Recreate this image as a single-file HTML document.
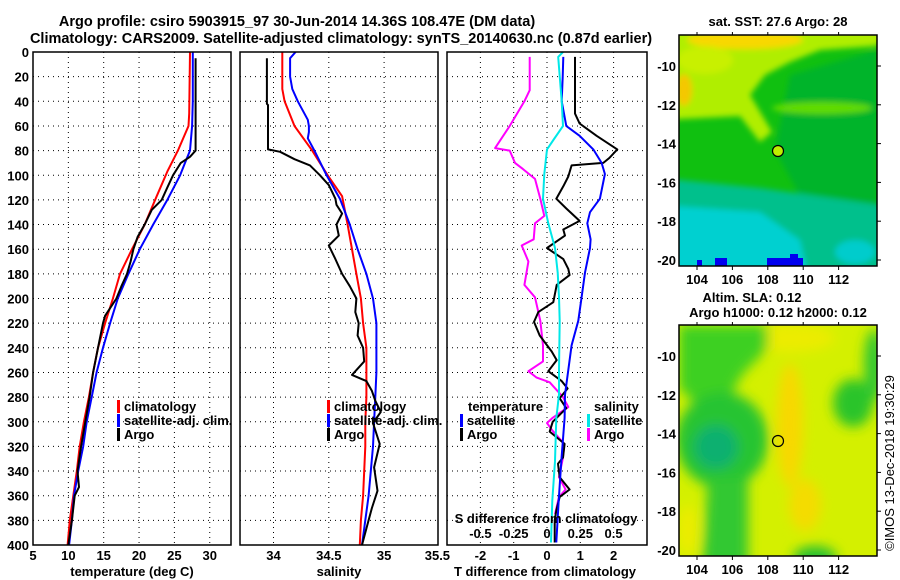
<!DOCTYPE html>
<html><head><meta charset="utf-8"><style>
html,body{margin:0;padding:0;background:#fff;}
svg{display:block;font-family:"Liberation Sans",Arial,sans-serif;font-weight:bold;}
</style></head><body>
<svg id="fig" width="900" height="580" viewBox="0 0 900 580">
<defs>
<filter id="blur4" x="-10%" y="-10%" width="120%" height="120%"><feGaussianBlur stdDeviation="3"/></filter>
<filter id="blur6" x="-10%" y="-10%" width="120%" height="120%"><feGaussianBlur stdDeviation="6"/></filter>
<clipPath id="clipm1"><rect x="679" y="35" width="198" height="231"/></clipPath>
<clipPath id="clipm2"><rect x="679" y="325" width="198" height="231"/></clipPath>
</defs>
<rect width="900" height="580" fill="#fff"/>
<text x="297" y="26" font-size="14.5" text-anchor="middle">Argo profile: csiro 5903915_97 30-Jun-2014 14.36S 108.47E (DM data)</text>
<text x="341" y="43" font-size="14.5" text-anchor="middle">Climatology: CARS2009. Satellite-adjusted climatology: synTS_20140630.nc (0.87d earlier)</text>

<g id="grid"></g>
<g id="series"></g>
<g id="axes"></g>

<!-- SST map -->
<g>
<text x="778" y="26" font-size="13" text-anchor="middle">sat. SST: 27.6 Argo: 28</text>
<g clip-path="url(#clipm1)">
<rect x="679" y="35" width="198" height="231" fill="#10c010"/>
<g filter="url(#blur4)">
<polygon points="790,75 877,50 877,205 805,205 775,150" fill="#02b42a"/>
<polygon points="660,20 900,20 877,46 820,50 790,62 765,75 750,95 772,132 760,142 740,116 660,120" fill="#b0ee00"/>
<ellipse cx="745" cy="40" rx="58" ry="9" fill="#f8d800"/>
<ellipse cx="684" cy="90" rx="8" ry="16" fill="#f4c800"/>
<ellipse cx="705" cy="60" rx="28" ry="14" fill="#c8f000"/>
<ellipse cx="822" cy="108" rx="50" ry="6" fill="#60dc00"/>
<polygon points="660,178 760,188 900,208 900,290 660,290" fill="#00c08c"/>
<polygon points="660,205 760,212 800,240 812,290 660,290" fill="#00d0d0"/>
<ellipse cx="855" cy="252" rx="20" ry="12" fill="#00cccc"/>
</g>
<rect x="697" y="260" width="5" height="6" fill="#0000f0"/>
<rect x="715" y="258" width="12" height="8" fill="#0000f0"/>
<rect x="767" y="258" width="36" height="8" fill="#0000f0"/>
<rect x="790" y="254" width="8" height="6" fill="#0000f0"/>
</g>
<rect x="679" y="35" width="198" height="231" fill="none" stroke="#000" stroke-width="1.5"/>
<circle cx="778" cy="151" r="5.5" fill="#bfee00" stroke="#000" stroke-width="1.2"/>
<g id="m1ticks"></g>
</g>

<!-- SLA map -->
<g>
<text x="752" y="302" font-size="13" text-anchor="middle">Altim. SLA: 0.12</text>
<text x="778" y="317" font-size="13" text-anchor="middle">Argo h1000: 0.12 h2000: 0.12</text>
<g clip-path="url(#clipm2)">
<rect x="679" y="325" width="198" height="231" fill="#d4f000"/>
<g filter="url(#blur6)">
<ellipse cx="790" cy="338" rx="45" ry="14" fill="#ecec00"/>
<ellipse cx="790" cy="425" rx="13" ry="62" fill="#f8d800"/>
<ellipse cx="805" cy="505" rx="16" ry="26" fill="#f4dc00"/>
<polygon points="679,325 768,325 768,348 742,375 724,408 700,408 679,388" fill="#3cd020"/>
<ellipse cx="722" cy="440" rx="46" ry="48" fill="#28c430"/>
<ellipse cx="716" cy="447" rx="22" ry="22" fill="#10b070"/>
<polygon points="708,478 748,478 748,570 702,570" fill="#30c830"/>
<ellipse cx="853" cy="403" rx="20" ry="24" fill="#2cc42c"/>
<ellipse cx="874" cy="365" rx="10" ry="36" fill="#30c830"/>
<ellipse cx="815" cy="558" rx="22" ry="12" fill="#28c030"/>
<ellipse cx="688" cy="530" rx="10" ry="25" fill="#ecec00"/>
</g>
</g>
<rect x="679" y="325" width="198" height="231" fill="none" stroke="#000" stroke-width="1.5"/>
<circle cx="778" cy="441" r="5.5" fill="none" stroke="#000" stroke-width="1.2"/>
<g id="m2ticks"></g>
</g>
<text transform="translate(894,463) rotate(-90)" font-size="13" font-weight="normal" text-anchor="middle">©IMOS 13-Dec-2018 19:30:29</text>
</svg>
<script>
// ---- Temperature panel data ----
const tClimDepth = [0,50,60,80,97,117,140,160,180,200,220,240,260,280,300,320,340,360,380,400];
const tClimVal   = [27.2,27.1,27.0,25.5,24.0,22.5,20.8,19.0,17.3,16.3,15.2,14.2,13.5,12.9,12.2,11.6,11.2,10.7,10.2,9.9];
const tSatDepth  = [0,40,60,80,90,100,120,140,160,180,200,220,240,260,280,300,320,340,360,380,400];
const tSatVal    = [27.6,27.6,27.5,27.2,26.5,25.8,24.0,22.0,20.1,18.5,17.0,15.9,14.9,14.0,13.3,12.6,12.1,11.4,10.8,10.5,10.1];
const tArgoDepth = [5,80,85,90,100,110,120,128,140,150,160,170,180,190,200,214,220,240,260,280,300,320,340,353,360,380,400];
const tArgoVal   = [28.0,28.0,27.2,25.9,24.8,24.0,23.2,21.8,20.8,19.8,19.2,18.8,18.3,17.5,16.8,15.2,14.9,14.2,13.5,13.0,12.4,11.8,11.3,11.5,10.9,10.5,10.0];
// ---- Salinity panel data ----
const sClimDepth = [0,30,40,60,80,100,117,140,160,180,200,220,240,260,280,300,320,340,360,380,400];
const sClimVal   = [34.08,34.08,34.10,34.19,34.35,34.49,34.62,34.67,34.71,34.75,34.79,34.81,34.84,34.84,34.84,34.83,34.83,34.82,34.81,34.79,34.78];
const sSatDepth  = [0,5,20,30,40,55,60,65,70,80,100,119,140,160,180,200,220,240,260,280,300,320,340,360,380,400];
const sSatVal    = [34.20,34.15,34.15,34.17,34.22,34.31,34.32,34.32,34.31,34.37,34.48,34.60,34.69,34.76,34.84,34.90,34.93,34.93,34.93,34.92,34.91,34.90,34.88,34.86,34.83,34.80];
const sArgoDepth = [5,42,43,79,81,87,92,100,108,119,124,131,140,149,157,168,180,190,200,211,220,230,240,251,262,267,275,283,292,301,318,337,356,370,380,400];
const sArgoVal   = [33.94,33.94,33.95,33.95,34.06,34.19,34.33,34.42,34.50,34.56,34.57,34.62,34.57,34.59,34.50,34.56,34.62,34.69,34.75,34.74,34.77,34.76,34.81,34.82,34.71,34.84,34.89,34.92,34.97,34.90,34.96,34.91,34.94,34.89,34.86,34.80];
// ---- Difference panel data ----
const dTSatDepth = [4,20,40,60,68,79,90,99,119,130,139,152,159,179,199,218,238,258,278,297,332,364,398];
const dTSatVal   = [0.49,0.47,0.44,0.58,0.98,1.39,1.64,1.74,1.59,1.29,1.21,1.31,1.29,1.14,1.04,0.94,0.74,0.64,0.54,0.53,0.43,0.35,0.28];
const dSSatDepth = [0,4,40,60,71,79,99,119,139,159,179,199,218,258,278,297,332,364,398];
const dSSatVal   = [0.12,0.084,0.11,0.12,0.05,0.0,-0.02,-0.03,0.01,0.06,0.08,0.09,0.095,0.09,0.09,0.07,0.06,0.04,0.03];
const dTArgoDepth = [4,50,58,68,79,86,90,92,101,109,119,127,137,144,149,159,168,176,181,189,203,211,219,230,243,250,259,267,273,281,289,300,308,318,329,334,345,355,361,372,380,398];
const dTArgoVal   = [0.84,0.84,0.98,1.49,2.11,1.87,1.69,0.74,0.64,0.49,0.28,0.58,0.98,0.49,0.54,0.0,0.49,0.64,0.68,0.29,0.19,-0.26,-0.39,-0.22,0.14,0.29,0.04,0.44,0.62,0.38,0.58,0.17,0.08,0.53,0.48,0.33,0.38,0.68,0.38,0.28,0.23,0.23];
const dSArgoDepth = [4,31,40,60,78,80,90,95,103,119,133,139,152,157,170,189,199,218,238,251,259,264,268,280,288,297,301,307,318,329,345,355,361,375];
const dSArgoVal   = [-0.13,-0.13,-0.17,-0.28,-0.39,-0.28,-0.24,-0.18,-0.09,-0.05,-0.02,-0.09,-0.10,-0.19,-0.14,-0.17,-0.09,-0.05,-0.03,-0.03,-0.14,-0.08,0.02,0.12,0.16,0.04,0.0,0.04,0.13,0.12,0.09,0.14,0.09,0.06];
// ---- Tick labels ----
const depthTicks = [0,20,40,60,80,100,120,140,160,180,200,220,240,260,280,300,320,340,360,380,400];
const tTicks = [5,10,15,20,25,30];
const sTicks = [34,34.5,35,35.5];
const dTTicks = [-2,-1,0,1,2];
const dSTicks = [-0.5,-0.25,0,0.25,0.5];
const lonTicks = [104,106,108,110,112];
const latTicks = [-10,-12,-14,-16,-18,-20];

const NS='http://www.w3.org/2000/svg';
const TOP=52, BOT=545;
function yD(d){return TOP+(d/400)*(BOT-TOP);}
const P1={x0:33,x1:231}, P2={x0:240,x1:438}, P3={x0:447,x1:647};
function xT(t){return 33+(t-5)*7.07;}
function xS(s){return 273.5+(s-34)*110.6;}
function xDT(v){return 547+v*33.3;}
function xDS(v){return 547+v*133.2;}
function mk(tag,attrs,parent){const e=document.createElementNS(NS,tag);for(const k in attrs)e.setAttribute(k,attrs[k]);parent.appendChild(e);return e;}
const grid=document.getElementById('grid'), series=document.getElementById('series'), axes=document.getElementById('axes');

function panelGrid(P,xs){
  depthTicks.forEach(d=>{if(d>0&&d<400){const l=mk('line',{x1:P.x0,x2:P.x1,y1:yD(d),y2:yD(d),stroke:'#000','stroke-width':1,'stroke-dasharray':'1,4'},grid);
    
    }});
  xs.forEach(x=>{const l=mk('line',{x1:x,x2:x,y1:TOP,y2:BOT,stroke:'#000','stroke-width':1,'stroke-dasharray':'1,4'},grid);
    
    });
}
panelGrid(P1,[10,15,20,25,30].map(xT));
panelGrid(P2,[34,34.5,35].map(xS));
panelGrid(P3,dTTicks.map(xDT));

function line(depths,vals,xf,color,name){
  const pts=depths.map((d,i)=>xf(vals[i]).toFixed(1)+','+yD(d).toFixed(1)).join(' ');
  const p=mk('polyline',{points:pts,fill:'none',stroke:color,'stroke-width':2,'stroke-linejoin':'round'},series);
  
  
}
line(tClimDepth,tClimVal,xT,'#ff0000','temperature-climatology-line');
line(tSatDepth,tSatVal,xT,'#0000ff','temperature-satellite-line');
line(tArgoDepth,tArgoVal,xT,'#000000','temperature-argo-line');
line(sClimDepth,sClimVal,xS,'#ff0000','salinity-climatology-line');
line(sSatDepth,sSatVal,xS,'#0000ff','salinity-satellite-line');
line(sArgoDepth,sArgoVal,xS,'#000000','salinity-argo-line');
line(dSArgoDepth,dSArgoVal,xDS,'#ff00ff','s-diff-argo-line');
line(dTArgoDepth,dTArgoVal,xDT,'#000000','t-diff-argo-line');
line(dTSatDepth,dTSatVal,xDT,'#0000ff','t-diff-satellite-line');
line(dSSatDepth,dSSatVal,xDS,'#00e8e8','s-diff-satellite-line');

function txt(x,y,s,size,anchor,parent,name){const t=mk('text',{x:x,y:y,'font-size':size,'text-anchor':anchor},parent);t.textContent=s;
  
  
  return t;}
[P1,P2,P3].forEach(P=>{const r=mk('rect',{x:P.x0,y:TOP,width:P.x1-P.x0,height:BOT-TOP,fill:'none',stroke:'#000','stroke-width':1.5},axes);
  
  });
depthTicks.forEach(d=>txt(29,yD(d)+5,String(d),13,'end',axes,'depth-tick-label'));
tTicks.forEach(v=>txt(xT(v),560,String(v),13,'middle',axes,'temperature-tick-label'));
sTicks.forEach(v=>txt(xS(v)-(v===35.5?2:0),560,String(v),13,'middle',axes,'salinity-tick-label'));
dTTicks.forEach(v=>txt(xDT(v),560,String(v),13,'middle',axes,'t-diff-tick-label'));
dSTicks.forEach(v=>txt(xDS(v),538,String(v),13,'middle',axes,'s-diff-tick-label'));
txt(132,576,'temperature (deg C)',13,'middle',axes,'temperature-axis-title');
txt(339,576,'salinity',13,'middle',axes,'salinity-axis-title');
txt(545,576,'T difference from climatology',13,'middle',axes,'t-diff-axis-title');
txt(546,523,'S difference from climatology',13,'middle',axes,'s-diff-axis-title');

function legendEntry(x,y,color,label,name){
  const r=mk('rect',{x:x,y:y-11,width:3,height:13,fill:color},axes);
  
  
  txt(x+7,y,label,13,'start',axes,name);
}
legendEntry(117,411,'#ff0000','climatology','legend-entry-climatology');
legendEntry(117,425,'#0000ff','satellite-adj. clim.','legend-entry-satellite');
legendEntry(117,439,'#000000','Argo','legend-entry-argo');
legendEntry(327,411,'#ff0000','climatology','legend-entry-climatology');
legendEntry(327,425,'#0000ff','satellite-adj. clim.','legend-entry-satellite');
legendEntry(327,439,'#000000','Argo','legend-entry-argo');
txt(468,411,'temperature',13,'start',axes,'legend-title-temperature');
legendEntry(460,425,'#0000ff','satellite','legend-entry-t-satellite');
legendEntry(460,439,'#000000','Argo','legend-entry-t-argo');
txt(594,411,'salinity',13,'start',axes,'legend-title-salinity');
legendEntry(587,425,'#00e8e8','satellite','legend-entry-s-satellite');
legendEntry(587,439,'#ff00ff','Argo','legend-entry-s-argo');

function lonX(l){return 697+(l-104)*17.7;}
function mapTicks(gid,y0){
  const g=document.getElementById(gid);
  const latY=l=>y0+31+(-10-l)*19.4;
  lonTicks.forEach(l=>{txt(lonX(l),y0+249,String(l),13,'middle',g,'map-lon-tick-label');
    mk('line',{x1:lonX(l),x2:lonX(l),y1:y0,y2:y0-3,stroke:'#000'},g);
    mk('line',{x1:lonX(l),x2:lonX(l),y1:y0+231,y2:y0+235,stroke:'#000'},g);});
  latTicks.forEach(l=>{txt(676,latY(l)+5,String(l),13,'end',g,'map-lat-tick-label');
    mk('line',{x1:877,x2:881,y1:latY(l),y2:latY(l),stroke:'#000'},g);});
}
mapTicks('m1ticks',35);
mapTicks('m2ticks',325);
</script>
</body></html>
